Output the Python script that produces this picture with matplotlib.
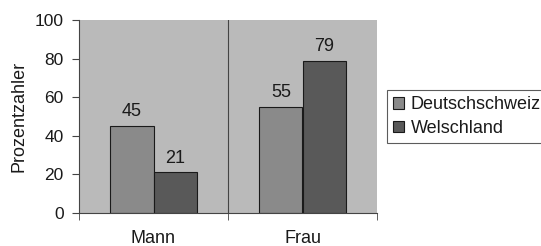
import matplotlib
matplotlib.use("Agg")
import matplotlib.pyplot as plt
import numpy as np

categories = ["Mann", "Frau"]
series_names = ["Deutschschweiz", "Welschland"]
deutschschweiz = [45, 55]
welschland = [21, 79]
yticks = [0, 20, 40, 60, 80, 100]

plt.rcParams['font.family'] = ['Liberation Sans', 'DejaVu Sans']

fig = plt.figure(figsize=(5.41, 2.46), dpi=100)
fig.patch.set_facecolor('white')
ax = fig.add_axes([79/541, 1-213/246, 298/541, 193/246])
ax.set_facecolor('#bababa')

x = np.arange(len(categories))
w = 0.29
b1 = ax.bar(x - w/2, deutschschweiz, w, color='#8a8a8a', edgecolor='#1a1a1a', linewidth=0.8, label=series_names[0])
b2 = ax.bar(x + w/2, welschland, w, color='#595959', edgecolor='#1a1a1a', linewidth=0.8, label=series_names[1])

for bars, vals in ((b1, deutschschweiz), (b2, welschland)):
    for r, v in zip(bars, vals):
        ax.text(r.get_x() + r.get_width()/2, v + 5, str(v), ha='center', va='baseline', fontsize=13, color='#1a1a1a')

ax.set_xlim(-0.5, len(categories) - 0.5)
ax.set_ylim(0, 100)
ax.set_yticks(yticks)
ax.set_yticklabels([str(t) for t in yticks], fontsize=12.5, color='#1a1a1a')
ax.set_xticks(x)
ax.set_xticklabels(categories, fontsize=13, color='#1a1a1a')
ax.set_xticks([-0.5, 0.5, 1.5], minor=True)
ax.tick_params(axis='x', which='major', length=0, pad=12)
ax.tick_params(axis='x', which='minor', length=5, color='#444444')
ax.tick_params(axis='y', length=5, color='#444444', pad=6)
ax.axvline(0.5, color='#444444', linewidth=0.8)

for s in ['top', 'right']:
    ax.spines[s].set_visible(False)
ax.spines['left'].set_color('#444444')
ax.spines['bottom'].set_color('#444444')
ax.set_ylabel("Prozentzahler", fontsize=13, labelpad=5, color='#1a1a1a')

leg = fig.legend(handles=[b1, b2], labels=series_names, loc='upper left',
                 bbox_to_anchor=(387/541, 1-90/246), fontsize=13, frameon=True,
                 fancybox=False, edgecolor='#333333', handlelength=0.6, handleheight=0.6,
                 handletextpad=0.35, borderpad=0.35, labelspacing=0.35, borderaxespad=0)
leg.get_frame().set_linewidth(0.8)
for t in leg.get_texts():
    t.set_color('#1a1a1a')

fig.savefig("out.png", dpi=100)
